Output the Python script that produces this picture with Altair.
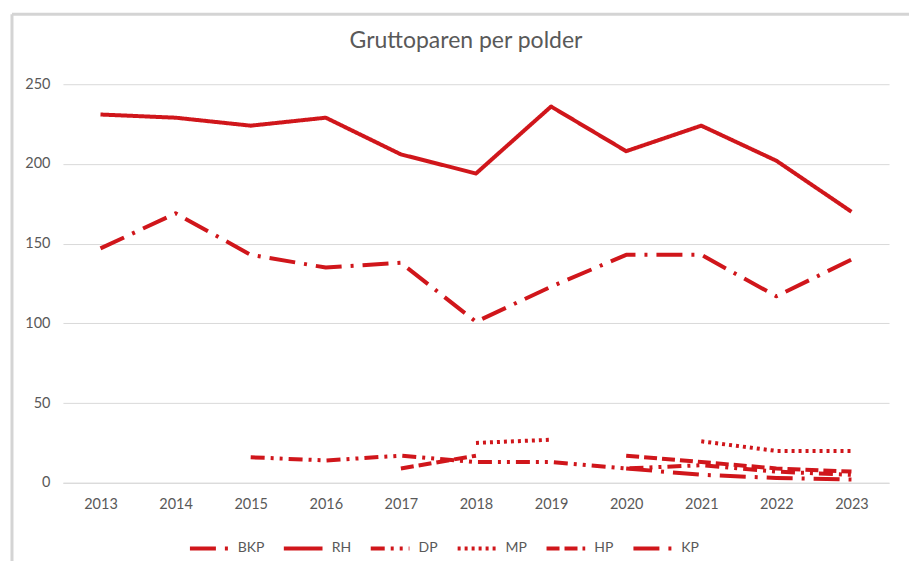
import altair as alt
import pandas as pd

years = list(range(2013, 2024))
polders = ["BKP", "RH", "DP", "MP", "HP", "KP"]
bkp = [147, 169, 143, 135, 138, 101, 123, 143, 143, 117, 140]
rh = [231, 229, 224, 229, 206, 194, 236, 208, 224, 202, 170]
dp = [None, None, 16, 14, 17, 13, 13, 9, 11, 7, 5]
mp = [None, None, None, None, None, 25, 27, None, 26, 20, 20]
hp = [None, None, None, None, 9, 17, None, 17, 13, 9, 7]
kp = [None, None, None, None, None, None, None, 9, 5, 3, 2]
y_ticks = [0, 50, 100, 150, 200, 250]

RED = "#d0161b"
GREY = "#595959"
FONT = "Lato"

series = dict(zip(polders, [bkp, rh, dp, mp, hp, kp]))
rows = []
for name, vals in series.items():
    seg = 0
    prev_none = True
    for yr, v in zip(years, vals):
        if v is None:
            prev_none = True
            continue
        if prev_none:
            seg += 1
        prev_none = False
        rows.append({"year": yr, "value": v, "polder": name, "seg": f"{name}-{seg}"})
df = pd.DataFrame(rows)

dashes = [
    [26, 9, 3, 9],            # BKP long dash dot
    [1, 0],                   # RH solid
    [14, 6, 3, 6, 3, 6],      # DP dash dot dot
    [3, 4],                   # MP dotted
    [13, 5],                  # HP dashed
    [26, 9, 3, 9],            # KP long dash dot
]

lines = alt.Chart(df).mark_line(strokeWidth=4, strokeCap="butt", strokeJoin="round", color=RED).encode(
    x=alt.X("year:O", title=None, scale=alt.Scale(type="point", padding=0.5),
            axis=alt.Axis(labelAngle=0, ticks=False, domain=True, domainColor="#d9d9d9",
                          labelColor=GREY, labelFont=FONT, labelFontSize=14.5, labelPadding=15)),
    y=alt.Y("value:Q", title=None, scale=alt.Scale(domain=[0, 250], nice=False),
            axis=alt.Axis(values=y_ticks, ticks=False, domain=False, grid=True, gridColor="#d9d9d9",
                          labelColor=GREY, labelFont=FONT, labelFontSize=14.5, labelPadding=13)),
    strokeDash=alt.StrokeDash("polder:N", sort=polders,
                              scale=alt.Scale(domain=polders, range=dashes),
                              legend=alt.Legend(title=None, orient="none", direction="horizontal",
                                                legendX=125, legendY=443, columns=6,
                                                symbolType="stroke", symbolSize=1500,
                                                symbolStrokeWidth=4, symbolStrokeColor=RED,
                                                labelColor=GREY, labelFont=FONT, labelFontSize=14,
                                                columnPadding=11, labelOffset=7)),
    detail="seg:N",
)

frame_left = alt.Chart().mark_rule(color="#d4d4d4", strokeWidth=3).encode(
    x=alt.value(-51), y=alt.value(-70), y2=alt.value(480))
frame_top = alt.Chart().mark_rule(color="#d4d4d4", strokeWidth=3).encode(
    x=alt.value(-51), x2=alt.value(870), y=alt.value(-70))

chart = alt.layer(frame_left, frame_top, lines).properties(
    width=827, height=399,
    title=alt.Title("Gruttoparen per polder", font=FONT, fontSize=23, fontWeight="normal",
                    color=GREY, anchor="middle", dx=-10, offset=-40),
    autosize=alt.AutoSizeParams(type="none"),
    padding={"left": 55, "top": 76, "right": 20, "bottom": 78},
).configure_view(stroke=None)

chart.save("out.html", embed_options={"renderer": "svg", "actions": False})
